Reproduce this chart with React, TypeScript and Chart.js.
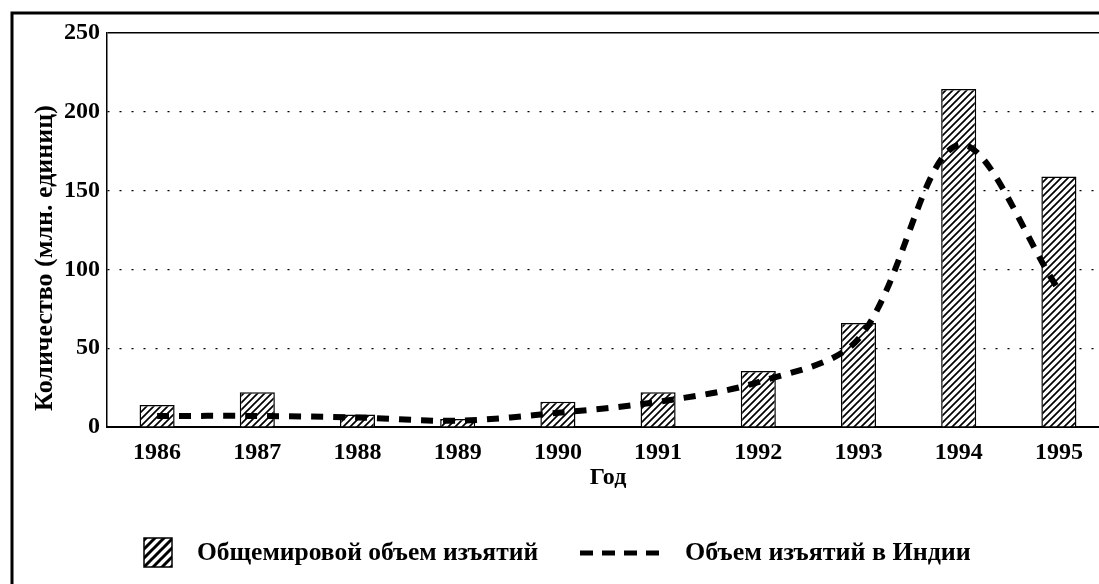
import React, { useEffect, useRef } from "react";
import { Chart, registerables } from "chart.js";

Chart.register(...registerables);

// ---- data ----
const years = ["1986", "1987", "1988", "1989", "1990", "1991", "1992", "1993", "1994", "1995"];
const worldSeizures = [14, 22, 8, 5, 16, 22, 35.5, 66, 214.5, 159];
const indiaSeizures = [7, 7, 6, 4, 9, 16, 28.5, 56, 179, 87];
const yTickValues = [0, 50, 100, 150, 200, 250];

const xTitle = "Год";
const yTitle = "Количество (млн. единиц)";
const legendWorld = "Общемировой объем изъятий";
const legendIndia = "Объем изъятий в Индии";

const FONT_FAMILY = "'Liberation Serif', 'Times New Roman', serif";
const TICK_SIZE = 24;
const TEXT_SIZE = 26;

function makeHatch(s: number, w: number): CanvasPattern | string {
  const c = document.createElement("canvas");
  c.width = s;
  c.height = s;
  const g = c.getContext("2d");
  if (!g) return "#fff";
  g.fillStyle = "#fff";
  g.fillRect(0, 0, s, s);
  g.strokeStyle = "#000";
  g.lineWidth = w;
  g.beginPath();
  g.moveTo(-2, s + 2);
  g.lineTo(s + 2, -2);
  g.moveTo(-2, 2);
  g.lineTo(2, -2);
  g.moveTo(s - 2, s + 2);
  g.lineTo(s + 2, s - 2);
  g.stroke();
  const p = g.createPattern(c, "repeat");
  return p || "#fff";
}

export default function App() {
  const ref = useRef<HTMLCanvasElement | null>(null);

  useEffect(() => {
    const canvas = ref.current;
    if (!canvas) return;
    const hatch = makeHatch(7, 1.7);
    const legendHatch = makeHatch(9, 3);

    const extras = {
      id: "extras",
      afterDraw(chart: any) {
        const ctx = chart.ctx as CanvasRenderingContext2D;
        ctx.save();
        // outer frame
        ctx.strokeStyle = "#000";
        ctx.lineWidth = 3;
        ctx.strokeRect(12, 13, 1300, 800);

        // y title
        ctx.fillStyle = "#000";
        ctx.font = `bold ${TEXT_SIZE}px ${FONT_FAMILY}`;
        ctx.textAlign = "center";
        ctx.textBaseline = "middle";
        ctx.save();
        ctx.translate(45, 258);
        ctx.rotate(-Math.PI / 2);
        ctx.fillText(yTitle, 0, 0);
        ctx.restore();

        // legend
        const ly = 553;
        ctx.fillStyle = legendHatch as any;
        ctx.fillRect(144, 538, 28, 29);
        ctx.lineWidth = 1.5;
        ctx.strokeStyle = "#000";
        ctx.strokeRect(144, 538, 28, 29);
        ctx.fillStyle = "#000";
        ctx.textAlign = "left";
        ctx.font = `bold 25.5px ${FONT_FAMILY}`;
        ctx.fillText(legendWorld, 197, ly);
        ctx.beginPath();
        ctx.setLineDash([13, 9]);
        ctx.lineWidth = 5;
        ctx.moveTo(580, ly);
        ctx.lineTo(659, ly);
        ctx.stroke();
        ctx.setLineDash([]);
        ctx.font = `bold ${TEXT_SIZE}px ${FONT_FAMILY}`;
        ctx.fillText(legendIndia, 685, ly);
        ctx.restore();
      },
    };

    const chart = new Chart(canvas, {
      type: "bar",
      data: {
        labels: years,
        datasets: [
          {
            type: "line",
            label: legendIndia,
            data: indiaSeizures,
            borderColor: "#000",
            borderWidth: 6,
            borderDash: [12, 10],
            borderCapStyle: "butt",
            pointRadius: 0,
            fill: false,
            tension: 0.33,
            order: 0,
          } as any,
          {
            type: "bar",
            label: legendWorld,
            data: worldSeizures,
            backgroundColor: hatch as any,
            borderColor: "#000",
            borderWidth: 1.5,
            categoryPercentage: 1,
            barPercentage: 0.35,
            order: 1,
          } as any,
        ],
      },
      options: {
        responsive: false,
        animation: false,
        devicePixelRatio: 1,
        layout: { padding: { left: 0, right: 6, top: 33, bottom: 87 } },
        plugins: {
          legend: { display: false },
          tooltip: { enabled: false },
        },
        scales: {
          x: {
            grid: { display: false, drawTicks: false },
            border: { display: true, color: "#000", width: 2 },
            ticks: {
              color: "#000",
              padding: 11,
              font: { family: FONT_FAMILY, size: TICK_SIZE, weight: "bold" },
              maxRotation: 0,
            },
            title: {
              display: true,
              text: xTitle,
              color: "#000",
              font: { family: FONT_FAMILY, size: TICK_SIZE, weight: "bold" },
              padding: { top: 0, bottom: 5 },
            },
            afterFit: (s: any) => {
              s.height = 70;
            },
          },
          y: {
            min: 0,
            max: 250,
            afterBuildTicks: (s: any) => {
              s.ticks = yTickValues.map((v) => ({ value: v }));
            },
            grid: {
              drawTicks: false,
              color: (c: any) => (c.tick && c.tick.value === 0 ? "rgba(0,0,0,0)" : "#000"),
              lineWidth: (c: any) => (c.tick && c.tick.value === 250 ? 1.5 : 1.2),
            },
            border: {
              display: true,
              color: "#000",
              width: 1.5,
              dash: (c: any) => (c.tick && c.tick.value === 250 ? [] : [2, 10]),
            } as any,
            ticks: {
              color: "#000",
              padding: 7,
              font: { family: FONT_FAMILY, size: TICK_SIZE, weight: "bold" },
            },
            afterFit: (s: any) => {
              s.width = 107;
            },
          },
        },
      },
      plugins: [extras],
    });

    return () => chart.destroy();
  }, []);

  return (
    <div
      style={{
        position: "fixed",
        left: 0,
        top: 0,
        width: 1099,
        height: 584,
        overflow: "hidden",
        background: "#fff",
      }}
    >
      <canvas ref={ref} width={1115} height={584} style={{ display: "block" }} />
    </div>
  );
}
